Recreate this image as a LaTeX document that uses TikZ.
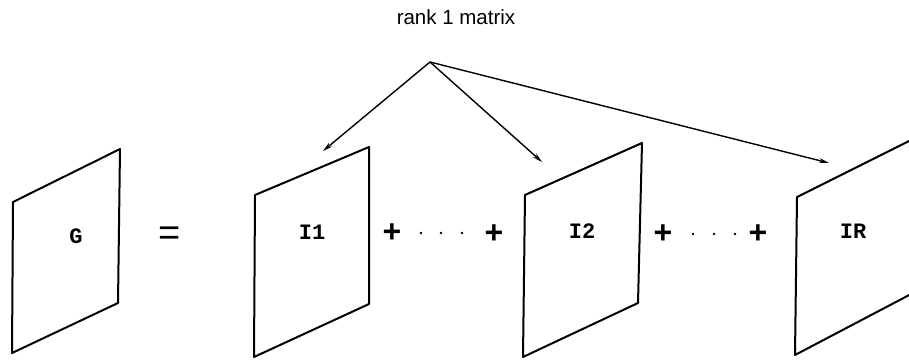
\documentclass[tikz,border=0pt]{standalone}
\usepackage{fontspec}
\setmainfont{Liberation Sans}
\newfontfamily\labfont{Liberation Mono}
\usetikzlibrary{arrows.meta}
\begin{document}
\begin{tikzpicture}[x=1pt,y=-1pt,
  panel/.style={line width=2pt,line join=round},
  lab/.style={font=\labfont\bfseries\fontsize{22}{22}\selectfont,inner sep=0pt},
  plussign/.style={font=\bfseries\fontsize{32}{32}\selectfont,inner sep=0pt},
  dotmark/.style={circle,fill=black,inner sep=0pt,minimum size=2.8pt},
  ptr/.style={line width=1.4pt,-{Stealth[length=10pt,width=5pt]}}]
\useasboundingbox (0,0) rectangle (909,359);
\clip (0,0) rectangle (909,359);
% title and apex
\node[font=\fontsize{20.5}{20.5}\selectfont,inner sep=0pt] (title) at (456,17) {rank 1 matrix};
\coordinate (apex) at (430,62);
% G panel
\coordinate (g1) at (13,202); \coordinate (g2) at (120,149);
\coordinate (g3) at (118,303); \coordinate (g4) at (12,353);
\draw[panel] (g1) -- (g2) -- (g3) -- (g4) -- cycle;
\node[lab] (G) at (76,236) {G};
\node[font=\fontsize{38}{38}\selectfont,inner sep=0pt] (eq) at (170,236) {=};
% I1 panel
\coordinate (a1) at (255,195); \coordinate (a2) at (369,147);
\coordinate (a3) at (369,304); \coordinate (a4) at (254,357);
\draw[panel] (a1) -- (a2) -- (a3) -- (a4) -- cycle;
\node[lab] (I1) at (312,232) {I1};
% I2 panel
\coordinate (b1) at (525,195); \coordinate (b2) at (642,143);
\coordinate (b3) at (638,303); \coordinate (b4) at (523,357);
\draw[panel] (b1) -- (b2) -- (b3) -- (b4) -- cycle;
\node[lab] (I2) at (582,231) {I2};
% IR panel
\coordinate (c1) at (797,197); \coordinate (c2) at (913,139);
\coordinate (c3) at (913,293); \coordinate (c4) at (795,355);
\draw[panel] (c1) -- (c2) -- (c3) -- (c4) -- cycle;
\node[lab] (IR) at (853,231) {IR};
% plus signs and dots
\node[plussign] (p1) at (392,233) {+};
\node[dotmark] (d1) at (421,233) {};
\node[dotmark] (d2) at (441,233) {};
\node[dotmark] (d3) at (462,233) {};
\node[plussign] (p2) at (494,234) {+};
\node[plussign] (p3) at (663,234) {+};
\node[dotmark] (d4) at (693,234) {};
\node[dotmark] (d5) at (714,234) {};
\node[dotmark] (d6) at (735,234) {};
\node[plussign] (p4) at (758,234) {+};
% arrows
\coordinate (t1) at (323,151);
\coordinate (t2) at (542,162);
\coordinate (t3) at (829,163);
\draw[ptr] (apex) -- (t1);
\draw[ptr] (apex) -- (t2);
\draw[ptr] (apex) -- (t3);
\end{tikzpicture}
\end{document}
